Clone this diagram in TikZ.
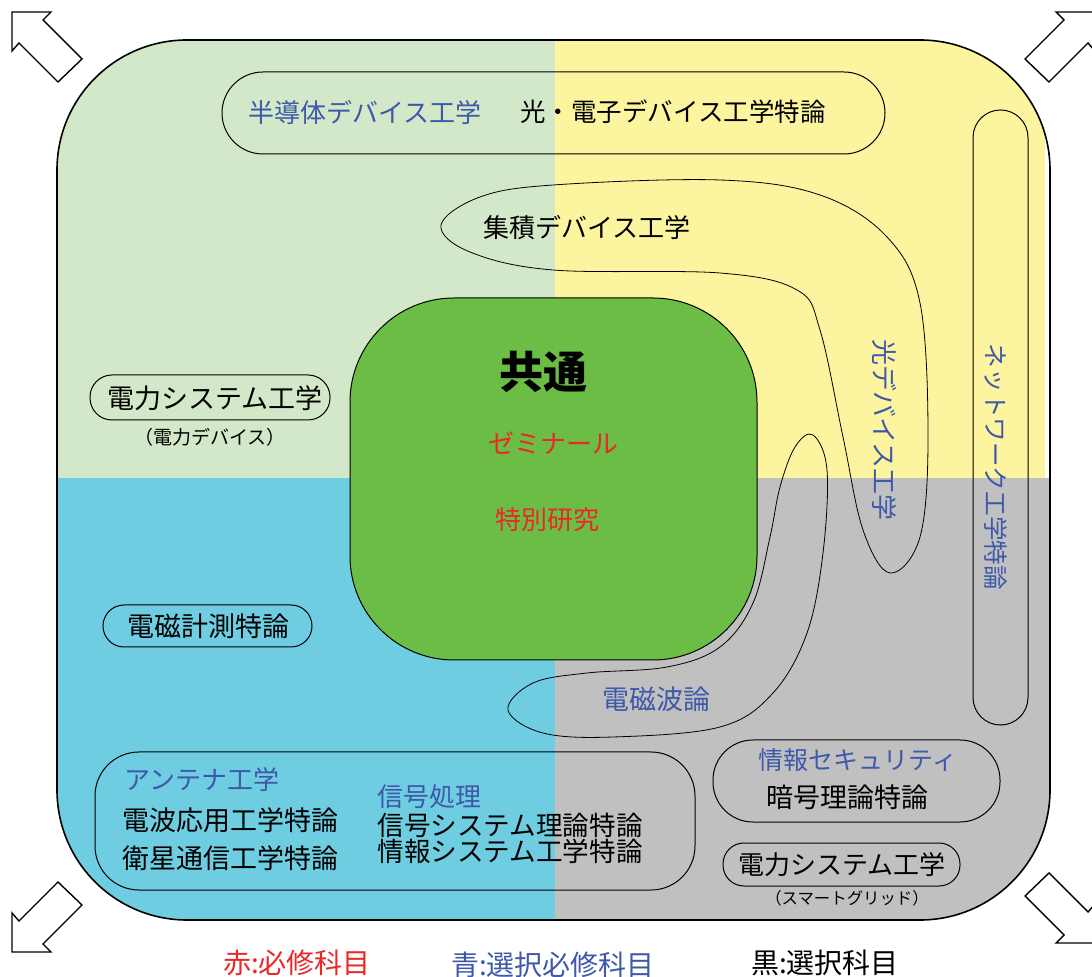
\documentclass[tikz,border=0pt]{standalone}
\usepackage{fontspec}
\setmainfont{Noto Sans CJK JP}

\definecolor{qgreen}{RGB}{211,232,200}
\definecolor{qyellow}{RGB}{252,244,158}
\definecolor{qcyan}{RGB}{110,205,224}
\definecolor{qgray}{RGB}{192,192,192}
\definecolor{coregreen}{RGB}{107,189,69}
\definecolor{reqred}{RGB}{235,40,40}
\definecolor{selblue}{RGB}{62,88,170}

\tikzset{
  course/.style={inner sep=0pt, font=\fontsize{13.5pt}{15pt}\selectfont},
  group/.style={inner sep=0pt, text=selblue, font=\fontsize{13pt}{15pt}\selectfont},
  must/.style={inner sep=0pt, text=reqred, font=\fontsize{13pt}{15pt}\selectfont},
  note/.style={inner sep=0pt, font=\fontsize{9.5pt}{11pt}\selectfont},
  legend/.style={inner sep=0pt, font=\fontsize{14pt}{16pt}\selectfont},
  pill/.style={draw, line width=0.5pt},
  blob/.style={draw, line width=0.5pt, smooth cycle, tension=0.6}
}

\begin{document}
\begin{tikzpicture}[x=0.5pt, y=-0.5pt]
  \useasboundingbox (0,0) rectangle (1092,977);

  % quadrants
  \begin{scope}
    \clip[rounded corners=65pt] (57,40) rectangle (1050,920);
    \fill[qgreen]  (57,40)   rectangle (555,478);
    \fill[qyellow] (555,40)  rectangle (1045,478);
    \fill[qcyan]   (57,478)  rectangle (555,920);
    \fill[qgray]   (555,478) rectangle (1050,920);
  \end{scope}
  \draw[rounded corners=65pt, line width=0.8pt] (57,40) rectangle (1050,920);

  % corner arrows
  \foreach \tx/\ty/\sx/\sy in {12/12/1/1, 1095/12/-1/1, 12/952/1/-1, 1095/943/-1/-1}
    \draw[line width=0.7pt, shift={(\tx,\ty)}, xscale=\sx, yscale=\sy]
      (0,0) -- (39,0) -- (31,8) -- (70,47) -- (46,70) -- (7,31) -- (0,39) -- cycle;

  % common core
  \fill[coregreen, draw=black, line width=0.5pt, rounded corners=52pt]
    (350,298) rectangle (757,660);
  \node[inner sep=0pt, font=\bfseries\fontsize{22pt}{24pt}\selectfont] (core) at (543,372) {共通};
  \node[must] (seminar) at (553,443) {ゼミナール};
  \node[must] (thesis)  at (547,520) {特別研究};

  % blobs
  \draw plot[blob] coordinates {(441,225) (480,197) (553,185) (720,180) (820,195) (887,237)
    (920,303) (928,437) (920,537) (890,573) (863,530) (843,437) (820,330) (797,290)
    (720,273) (553,270) (470,252)};
  \node[inner sep=0pt, font=\fontsize{13pt}{15pt}\selectfont] (integ) at (587,228) {集積デバイス工学};
  \node[group, rotate=-90] (opto) at (885,430) {光デバイス工学};

  \draw plot[blob] coordinates {(813,435) (827,470) (823,553) (807,633) (773,693) (720,727)
    (613,737) (543,733) (508,710) (533,683) (587,673) (667,667) (720,647) (753,603)
    (770,537) (780,487) (795,447)};
  \node[group, font=\fontsize{13.5pt}{15pt}\selectfont] (wave) at (656,699) {電磁波論};

  % pills
  \draw[pill, rounded corners=20.5pt] (222,72) rectangle (885,154);
  \node[group] (semi) at (365,112) {半導体デバイス工学};
  \node[course, font=\fontsize{12.75pt}{15pt}\selectfont] (optoel) at (673,112) {光・電子デバイス工学特論};

  \draw[pill, rounded corners=13.75pt] (973,110) rectangle (1028,725);
  \node[group, rotate=-90, font=\fontsize{12.3pt}{14pt}\selectfont] (network) at (996,467) {ネットワーク工学特論};

  \draw[pill, rounded corners=11pt] (90,375) rectangle (330,420);
  \node[course] (powerA) at (215,398) {電力システム工学};
  \node[note] (powerAsub) at (210,437) {（電力デバイス）};

  \draw[pill, rounded corners=10.5pt] (103,605) rectangle (312,647);
  \node[course] (emmeas) at (208,626) {電磁計測特論};

  \draw[pill, rounded corners=22pt] (95,752) rectangle (695,890);
  \node[group, anchor=west] (antenna) at (124,780) {アンテナ工学};
  \node[course, anchor=west] (radio) at (122,820) {電波応用工学特論};
  \node[course, anchor=west] (sat)   at (122,858) {衛星通信工学特論};
  \node[group, anchor=west] (signal) at (377,797) {信号処理};
  \node[course, anchor=west, font=\fontsize{13.3pt}{15pt}\selectfont] (sigsys) at (377,825) {信号システム理論特論};
  \node[course, anchor=west, font=\fontsize{13.3pt}{15pt}\selectfont] (infsys) at (377,851) {情報システム工学特論};

  \draw[pill, rounded corners=20pt] (713,740) rectangle (1000,822);
  \node[group, font=\fontsize{12.5pt}{15pt}\selectfont] (security) at (858,760) {情報セキュリティ};
  \node[course] (crypto) at (847,797) {暗号理論特論};

  \draw[pill, rounded corners=10.5pt] (723,843) rectangle (960,886);
  \node[course, font=\fontsize{13pt}{15pt}\selectfont] (powerB) at (842,865) {電力システム工学};
  \node[note, font=\fontsize{8.2pt}{10pt}\selectfont] (powerBsub) at (847,898) {（スマートグリッド）};

  % legend
  \node[legend, text=reqred]  (keyred)   at (297,963) {赤:必修科目};
  \node[legend, text=selblue] (keyblue)  at (553,965) {青:選択必修科目};
  \node[legend]               (keyblack) at (825,963) {黒:選択科目};

\end{tikzpicture}
\end{document}
